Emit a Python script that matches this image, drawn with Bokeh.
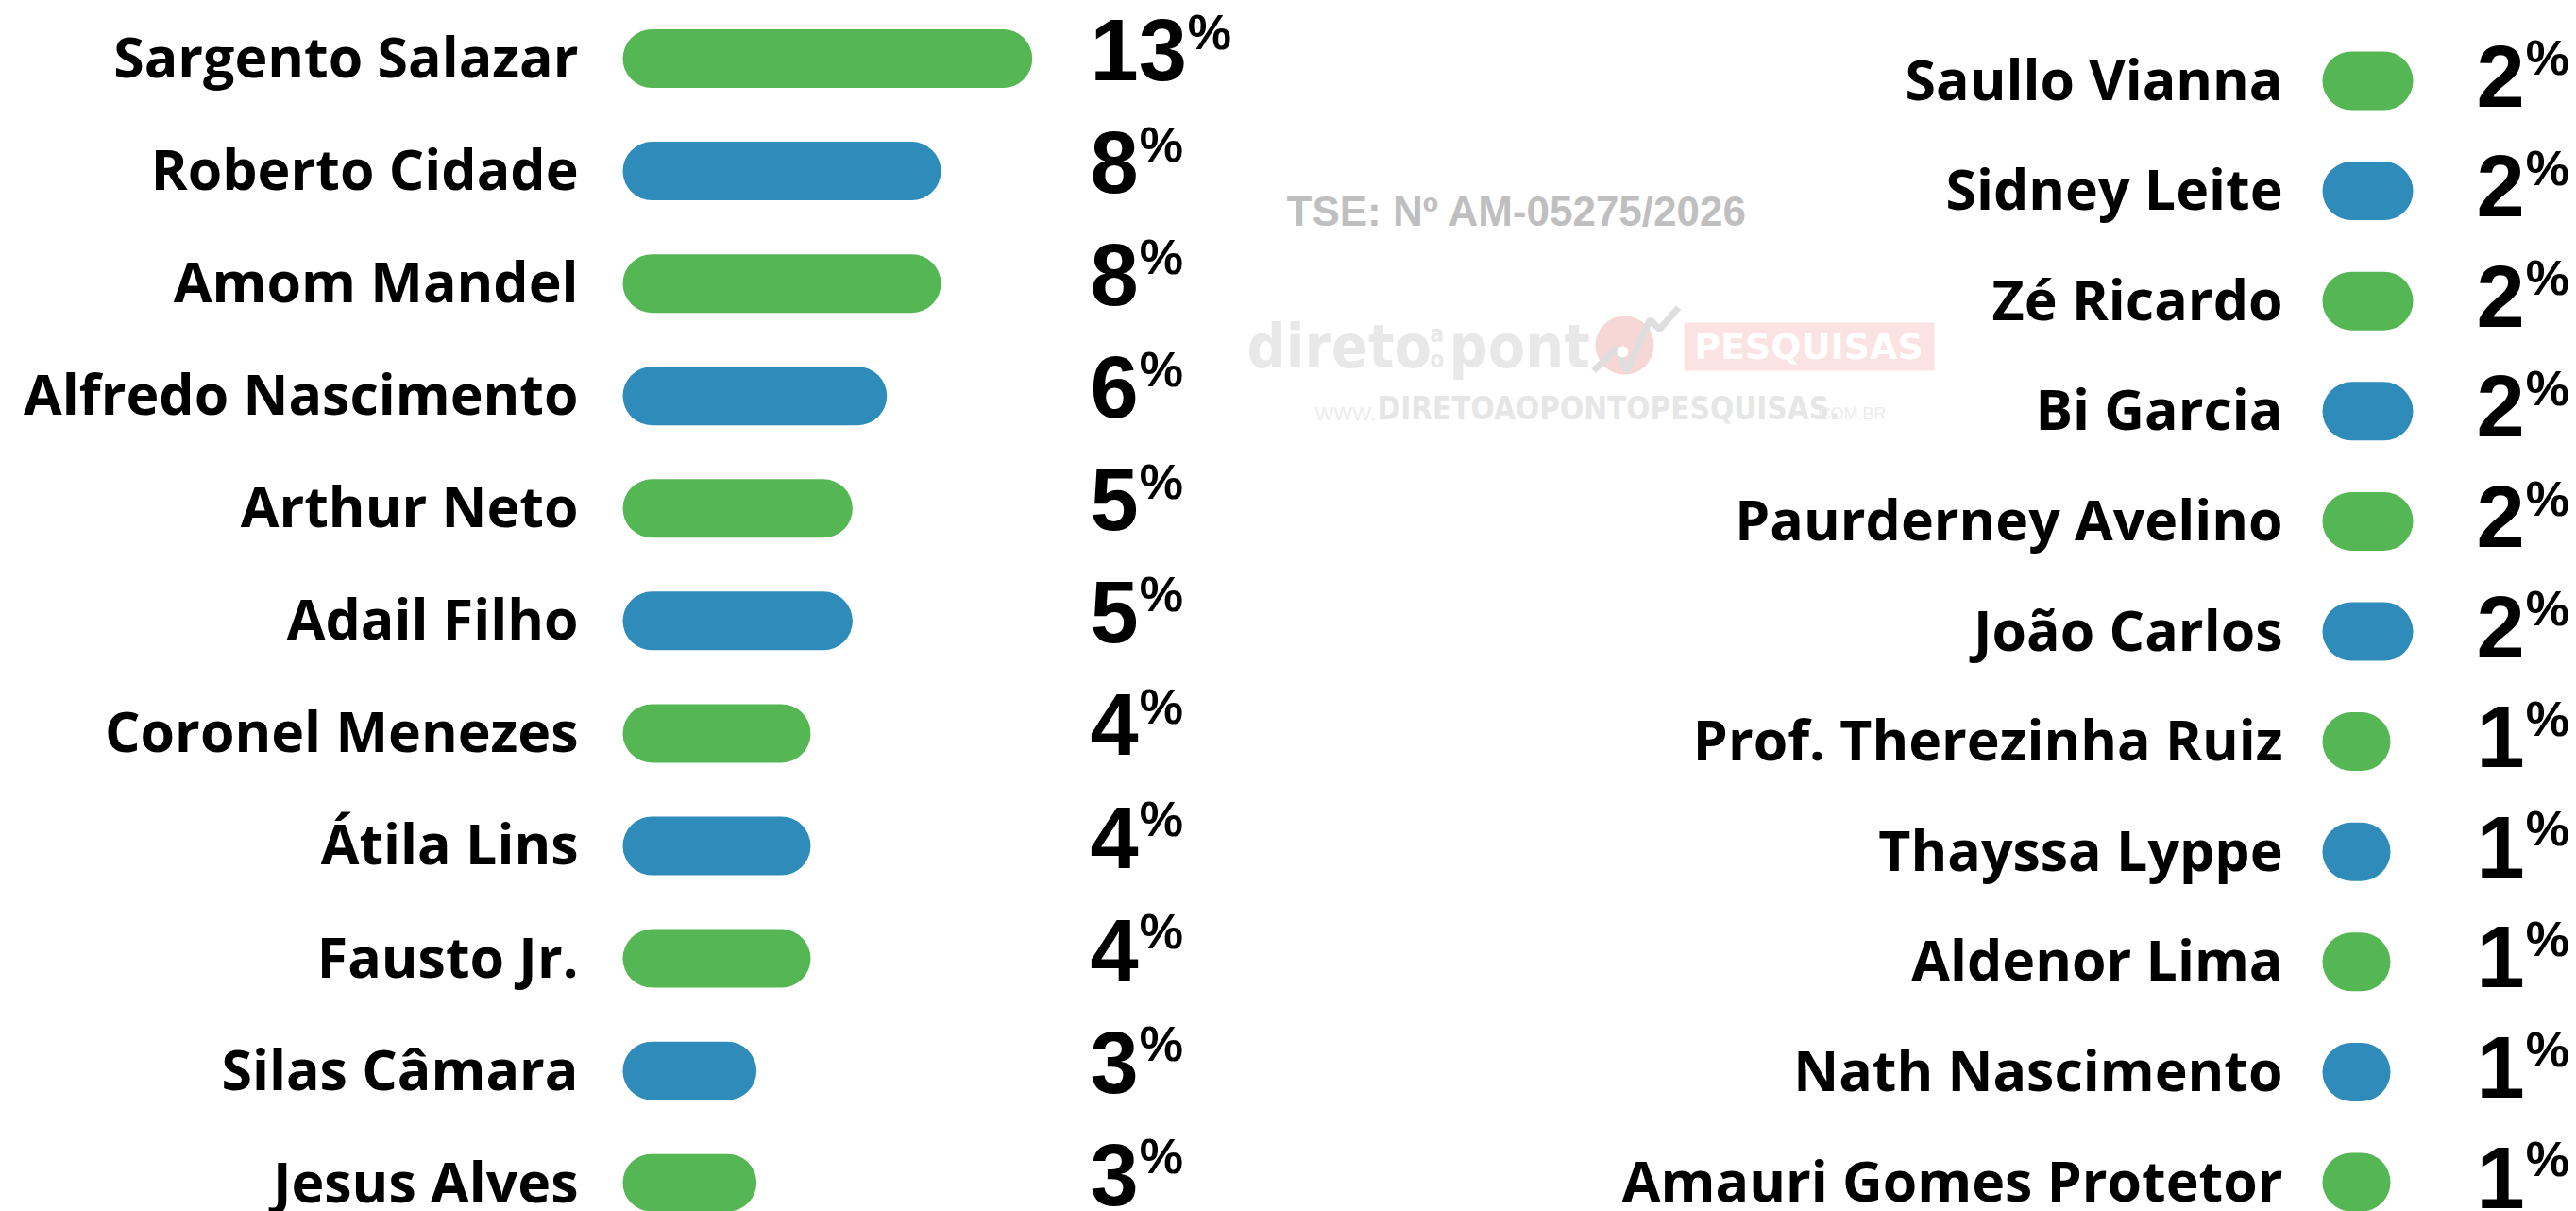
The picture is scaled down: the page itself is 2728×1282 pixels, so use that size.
import math
from bokeh.plotting import figure
from bokeh.models import Range1d, LogScale, LinearScale, ColumnDataSource
from bokeh.core.properties import value
from bokeh.embed import file_html
from bokeh.resources import INLINE

# ---------------- data ----------------
left_names = ["Sargento Salazar", "Roberto Cidade", "Amom Mandel", "Alfredo Nascimento",
              "Arthur Neto", "Adail Filho", "Coronel Menezes", "Átila Lins",
              "Fausto Jr.", "Silas Câmara", "Jesus Alves"]
left_values = [13, 8, 8, 6, 5, 5, 4, 4, 4, 3, 3]

right_names = ["Saullo Vianna", "Sidney Leite", "Zé Ricardo", "Bi Garcia",
               "Paurderney Avelino", "João Carlos", "Prof. Therezinha Ruiz",
               "Thayssa Lyppe", "Aldenor Lima", "Nath Nascimento", "Amauri Gomes Protetor"]
right_values = [2, 2, 2, 2, 2, 2, 1, 1, 1, 1, 1]

registration = "TSE: Nº AM-05275/2026"

# ---------------- styles ----------------
W, H = 2728, 1282
GREEN = "#55b654"
BLUE = "#2e8bba"
NAME_FONT = value("Open Sans")
NUM_FONT = value("Liberation Sans")
DIGIT_SIZE = 92
SIGN_SIZE = 52
DIGIT_ADV = 0.556 * DIGIT_SIZE
SHIFT = 0.39  # extra downward shift of the alphabetic baseline, in em


def rows(first_px, step):
    return Range1d(start=(H - first_px) / step, end=-first_px / step)


p = figure(width=W, height=H, x_range=Range1d(0, W), y_range=Range1d(H, 0),
           output_backend="svg", toolbar_location=None,
           x_axis_type=None, y_axis_type=None, min_border=0,
           outline_line_color=None, background_fill_color="white",
           border_fill_color="white")

L_STEP, R_STEP = 119.07, 116.6
p.extra_y_ranges = {"lrow": rows(61.5, L_STEP), "rrow": rows(85.0, R_STEP)}

# left bars: log scale, right pills: linear scale
LA, LC = 199.2, 581.8
RA, RC = 24.0, 2507.0
p.extra_x_ranges = {
    "lbar": Range1d(start=math.exp(-LC / LA), end=math.exp((W - LC) / LA)),
    "rbar": Range1d(start=-RC / RA, end=(W - RC) / RA),
}
p.extra_x_scales = {"lbar": LogScale(), "rbar": LinearScale()}
l_base = math.exp((659 - LC) / LA)
r_base = (2459 - RC) / RA


def colors(n):
    return [GREEN if i % 2 == 0 else BLUE for i in range(n)]


def build(names, vals, pct_x0):
    return ColumnDataSource(dict(
        y=list(range(len(names))), name=names, v=vals, color=colors(len(names)),
        pct=[str(v) for v in vals],
        sign=["%" for v in vals],
        pctx=[pct_x0 + len(str(v)) * DIGIT_ADV + 1 for v in vals],
    ))


lsrc = build(left_names, left_values, 1154)
rsrc = build(right_names, right_values, 2622)

# bars / pills
p.hbar(y="y", left=l_base, right="v", height=62 / L_STEP, fill_color="color",
       line_color=None, border_radius=31, source=lsrc,
       x_range_name="lbar", y_range_name="lrow")
p.hbar(y="y", left=r_base, right="v", height=62 / R_STEP, fill_color="color",
       line_color=None, border_radius=31, source=rsrc,
       x_range_name="rbar", y_range_name="rrow")

# names
for src, xr, rng in ((lsrc, 612, "lrow"), (rsrc, 2417, "rrow")):
    p.text(x=xr, y="y", text="name", source=src, y_range_name=rng,
           text_align="right", text_baseline="alphabetic", y_offset=-3,
           text_font=NAME_FONT, text_font_style="bold", text_font_size="59px",
           text_color="black")

# percentages
digit_half = 0.716 * DIGIT_SIZE / 2
sign_h = 0.73 * SIGN_SIZE
for src, x0, rng, dy in ((lsrc, 1154, "lrow", -6), (rsrc, 2622, "rrow", -2)):
    p.text(x=x0, y="y", text="pct", source=src, y_range_name=rng,
           text_align="left", text_baseline="alphabetic",
           y_offset=dy + digit_half - SHIFT * DIGIT_SIZE,
           text_font=NUM_FONT, text_font_style="bold", text_font_size=f"{DIGIT_SIZE}px",
           text_color="black")
    p.text(x="pctx", y="y", text="sign", source=src, y_range_name=rng,
           text_align="left", text_baseline="alphabetic",
           y_offset=dy - digit_half - 7 + sign_h - SHIFT * SIGN_SIZE,
           text_font=NUM_FONT, text_font_style="bold", text_font_size=f"{SIGN_SIZE}px",
           text_color="black")

# ---------------- watermark / registration ----------------
p.circle(x=[1720], y=[365], radius=31, fill_color="#f7d6d6", line_color=None)
p.line(x=[1687, 1712, 1722, 1747, 1757, 1777], y=[392, 368, 392, 338, 348, 325],
       line_color="#dedede", line_width=7)
p.circle(x=[1718], y=[372], radius=6, fill_color="white", line_color=None)
p.quad(left=[1783], right=[2048], top=[341], bottom=[392],
       fill_color="#fbe3e3", line_color=None)


def txt(x, y, s, size, color, bold=True, font="DejaVu Sans Condensed", align="left"):
    p.text(x=[x], y=[y], text=[s], text_font=value(font),
           text_font_style="bold" if bold else "normal", text_font_size=f"{size}px",
           text_color=color, text_align=align, text_baseline="alphabetic",
           y_offset=-SHIFT * size)


WM = "#e8e8e8"
txt(1320, 391, "direto", 64, WM)
txt(1514, 363, "a", 24, WM)
txt(1514, 390, "o", 24, WM)
txt(1534, 391, "pont", 64, WM)
txt(1915, 381, "PESQUISAS", 38, "white", font="DejaVu Sans", align="center")
txt(1392, 445, "WWW.", 21, "#ececec", bold=False, font="Liberation Sans")
txt(1458, 445, "DIRETOAOPONTOPESQUISAS.", 33, "#e6e6e6")
txt(1925, 445, "COM.BR", 18, "#ececec", bold=False, font="Liberation Sans")
txt(1362, 240, registration, 44, "#bfbfbf", font="Liberation Sans")

open("out.html", "w").write(file_html(p, INLINE))
